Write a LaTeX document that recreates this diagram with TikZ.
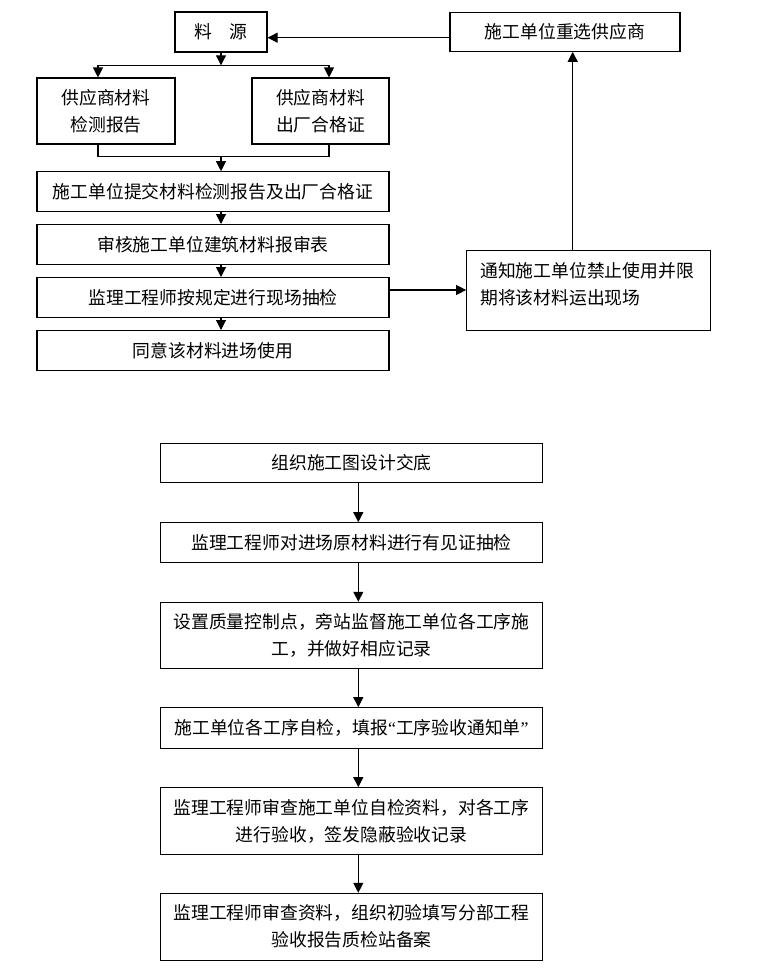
\documentclass[tikz,border=0pt]{standalone}
\usepackage{fontspec}
\newfontfamily\cjk{Noto Sans CJK SC}
\newfontfamily\lat{Liberation Serif}
\usetikzlibrary{arrows.meta}
\begin{document}
\begin{tikzpicture}[x=1pt,y=-1pt,
  box/.style={draw=black,line width=1.1pt,rectangle,inner sep=0pt,align=center,font=\cjk\fontsize{17.8}{27}\selectfont},
  txt/.style={inner sep=0pt,align=left,font=\cjk\fontsize{17.8}{26.5}\selectfont},
  arr/.style={line width=1.1pt,-{Triangle[length=10pt,width=10pt]}},
  ln/.style={line width=1.1pt}]
\useasboundingbox[fill=white] (0,0) rectangle (759,980);
% top part
\node[box,minimum width=92pt,minimum height=40pt] (src) at (221,32) {料\hspace{1em}源};
\node[box,minimum width=138pt,minimum height=66pt] (test) at (106,111) {供应商材料\\检测报告};
\node[box,minimum width=137pt,minimum height=66pt] (cert) at (320.5,111) {供应商材料\\出厂合格证};
\node[box,minimum width=352pt,minimum height=39.5pt] (submit) at (213,191.5) {施工单位提交材料检测报告及出厂合格证};
\node[box,minimum width=352pt,minimum height=39.5pt] (review) at (213,244.3) {审核施工单位建筑材料报审表};
\node[box,minimum width=352pt,minimum height=39.5pt] (check) at (213,297.3) {监理工程师按规定进行现场抽检};
\node[box,minimum width=352pt,minimum height=39.5pt] (agree) at (213,350.3) {同意该材料进场使用};
\node[box,minimum width=230pt,minimum height=39pt] (reselect) at (565,31.8) {施工单位重选供应商};
\node[box,minimum width=243.6pt,minimum height=80pt] (notify) at (588.5,290.3) {};
\node[txt,anchor=west] (notifyt) at (480,284) {通知施工单位禁止使用并限\\期将该材料运出现场};
% top connectors
\coordinate (jtop) at (221,65.3);
\coordinate (jl) at (98,65.3);
\coordinate (jr) at (329,65.3);
\draw[arr] (src.south) -- (jtop);
\draw[ln] (jl) -- (jr);
\draw[arr] (jl) -- (jl |- test.north);
\draw[arr] (jr) -- (jr |- cert.north);
\coordinate (kl) at (98,156.7);
\coordinate (kr) at (329,156.7);
\coordinate (kc) at (221,156.7);
\draw[ln] (kl |- test.south) -- (kl) -- (kr) -- (kr |- cert.south);
\draw[arr] (kc) -- (kc |- submit.north);
\draw[arr] (kc |- submit.south) -- (kc |- review.north);
\draw[arr] (kc |- review.south) -- (kc |- check.north);
\draw[arr] (kc |- check.south) -- (kc |- agree.north);
\coordinate (cyy) at (0,290);
\draw[arr] (check.east |- cyy) -- (notify.west |- cyy);
\coordinate (ux) at (572.7,0);
\draw[arr] (notify.north -| ux) -- (reselect.south -| ux);
\coordinate (lyy) at (0,37.7);
\draw[arr] (reselect.west |- lyy) -- (src.east |- lyy);
% bottom part
\node[box,minimum width=381.6pt,minimum height=39pt] (b1) at (351.5,462.8) {组织施工图设计交底};
\node[box,minimum width=381.6pt,minimum height=39.6pt] (b2) at (351.5,542.5) {监理工程师对进场原材料进行有见证抽检};
\node[box,minimum width=381.6pt,minimum height=66pt] (b3) at (351.5,635.3) {设置质量控制点，旁站监督施工单位各工序施\\工，并做好相应记录};
\node[box,minimum width=381.6pt,minimum height=40.6pt] (b4) at (351.5,728) {施工单位各工序自检，填报{\lat “}工序验收通知单{\lat ”}};
\node[box,minimum width=381.6pt,minimum height=66.6pt] (b5) at (351.5,821) {监理工程师审查施工单位自检资料，对各工序\\进行验收，签发隐蔽验收记录};
\node[box,minimum width=381.6pt,minimum height=66.7pt] (b6) at (351.5,926.7) {监理工程师审查资料，组织初验填写分部工程\\验收报告质检站备案};
\coordinate (bx) at (358.3,0);
\draw[arr] (b1.south -| bx) -- (b2.north -| bx);
\draw[arr] (b2.south -| bx) -- (b3.north -| bx);
\draw[arr] (b3.south -| bx) -- (b4.north -| bx);
\draw[arr] (b4.south -| bx) -- (b5.north -| bx);
\draw[arr] (b5.south -| bx) -- (b6.north -| bx);
\end{tikzpicture}
\end{document}
